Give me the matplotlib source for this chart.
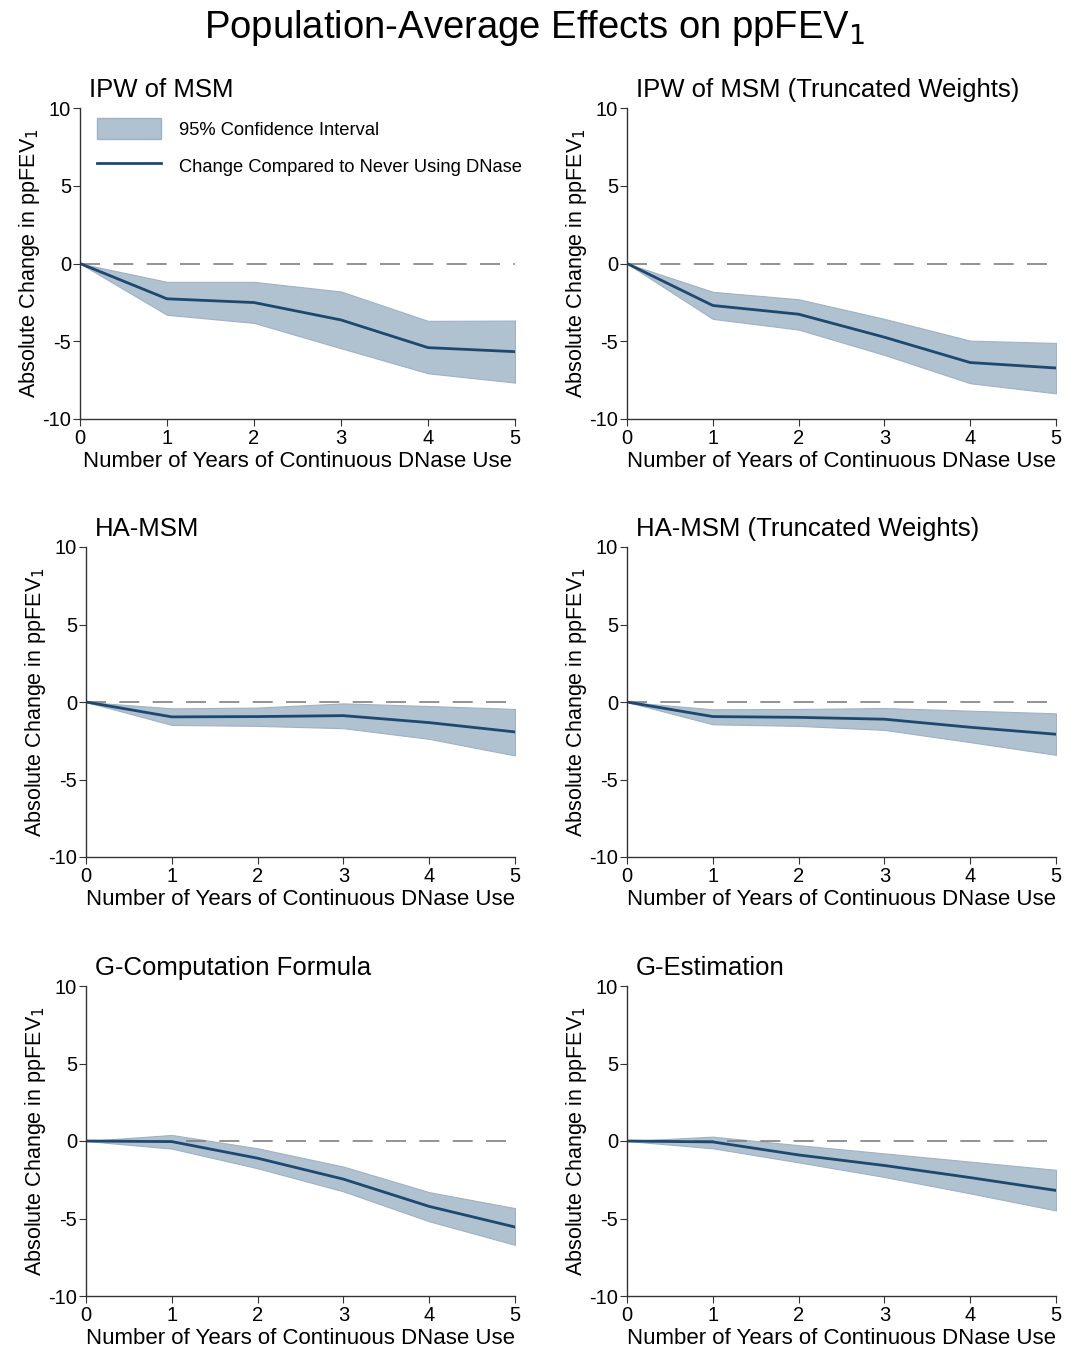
import matplotlib
matplotlib.use('Agg')
import matplotlib.pyplot as plt
from matplotlib.patches import Patch
from matplotlib.lines import Line2D

plt.rcParams['font.family'] = ['Liberation Sans', 'DejaVu Sans']
plt.rcParams['axes.unicode_minus'] = False

years = [0, 1, 2, 3, 4, 5]

titles = [
    'IPW of MSM',
    'IPW of MSM (Truncated Weights)',
    'HA-MSM',
    'HA-MSM (Truncated Weights)',
    'G-Computation Formula',
    'G-Estimation',
]

# estimate, lower and upper bound of 95% CI, one list per panel
ipw_est = [0, -2.27, -2.51, -3.63, -5.41, -5.67]
ipw_lo = [0, -3.30, -3.82, -5.45, -7.06, -7.66]
ipw_hi = [0, -1.18, -1.18, -1.80, -3.69, -3.67]

ipw_tr_est = [0, -2.70, -3.26, -4.74, -6.37, -6.72]
ipw_tr_lo = [0, -3.56, -4.25, -5.88, -7.70, -8.35]
ipw_tr_hi = [0, -1.82, -2.30, -3.56, -4.96, -5.11]

ha_est = [0, -0.96, -0.94, -0.88, -1.33, -1.93]
ha_lo = [0, -1.48, -1.54, -1.69, -2.38, -3.45]
ha_hi = [0, -0.41, -0.36, -0.09, -0.26, -0.45]

ha_tr_est = [0, -0.94, -0.99, -1.11, -1.63, -2.08]
ha_tr_lo = [0, -1.44, -1.54, -1.80, -2.59, -3.41]
ha_tr_hi = [0, -0.47, -0.45, -0.39, -0.56, -0.73]

gcomp_est = [0, -0.04, -1.11, -2.46, -4.22, -5.55]
gcomp_lo = [0, -0.49, -1.76, -3.25, -5.18, -6.70]
gcomp_hi = [0, 0.39, -0.47, -1.65, -3.30, -4.33]

gest_est = [0, -0.06, -0.90, -1.58, -2.36, -3.19]
gest_lo = [0, -0.47, -1.38, -2.32, -3.38, -4.48]
gest_hi = [0, 0.28, -0.27, -0.80, -1.33, -1.86]

panels = [
    (ipw_est, ipw_lo, ipw_hi),
    (ipw_tr_est, ipw_tr_lo, ipw_tr_hi),
    (ha_est, ha_lo, ha_hi),
    (ha_tr_est, ha_tr_lo, ha_tr_hi),
    (gcomp_est, gcomp_lo, gcomp_hi),
    (gest_est, gest_lo, gest_hi),
]

W, H = 1069, 1348
fig = plt.figure(figsize=(W / 100, H / 100), dpi=100)

# axes boxes in pixels: left, right, top, bottom
boxes = [
    (80, 515, 108, 419), (627, 1056, 108, 419),
    (86, 515, 547, 857), (627, 1056, 547, 857),
    (86, 515, 986, 1296), (627, 1056, 986, 1296),
]

fill_col = '#b0c1d0'
edge_col = '#9fb2c4'
line_col = '#1d4870'
spine_col = '#333333'

for i, (title, (est, lo, hi)) in enumerate(zip(titles, panels)):
    l, r, t, b = boxes[i]
    ax = fig.add_axes([l / W, 1 - b / H, (r - l) / W, (b - t) / H])
    ax.fill_between(years, lo, hi, facecolor=fill_col, edgecolor=edge_col, linewidth=0.8)
    ax.axhline(0, color='#808080', linestyle=(0, (12, 8)), linewidth=1.2)
    ax.plot(years, est, color=line_col, linewidth=2)
    ax.set_xlim(0, 5)
    ax.set_ylim(-10, 10)
    ax.set_xticks(years)
    ax.set_yticks([-10, -5, 0, 5, 10])
    for s in ['top', 'right']:
        ax.spines[s].set_visible(False)
    for s in ['left', 'bottom']:
        ax.spines[s].set_color(spine_col)
        ax.spines[s].set_linewidth(1.0)
    ax.tick_params(labelsize=14.5, length=5, color=spine_col, pad=1.5)
    ax.tick_params(axis='x', pad=2.5)
    ax.set_xlabel('Number of Years of Continuous DNase Use', fontsize=16, labelpad=2)
    ax.set_ylabel('Absolute Change in ppFEV$_1$', fontsize=15.5, labelpad=0)
    ax.set_title(title, loc='left', x=0.02, fontsize=18.5, pad=8)

    if i == 0:
        handles = [
            Patch(facecolor=fill_col, edgecolor=edge_col),
            Line2D([0], [0], color=line_col, linewidth=2),
        ]
        ax.legend(handles, ['95% Confidence Interval', 'Change Compared to Never Using DNase'],
                  loc='upper left', bbox_to_anchor=(0.0, 1.02), frameon=False,
                  fontsize=13.2, handlelength=3.5, handleheight=1.4, handletextpad=1.0,
                  labelspacing=0.85)

fig.text(0.5, 1 - 28 / H, 'Population-Average Effects on ppFEV$_1$', ha='center', va='center',
         fontsize=27.5)

fig.savefig('out.png', dpi=100)
plt.close(fig)
